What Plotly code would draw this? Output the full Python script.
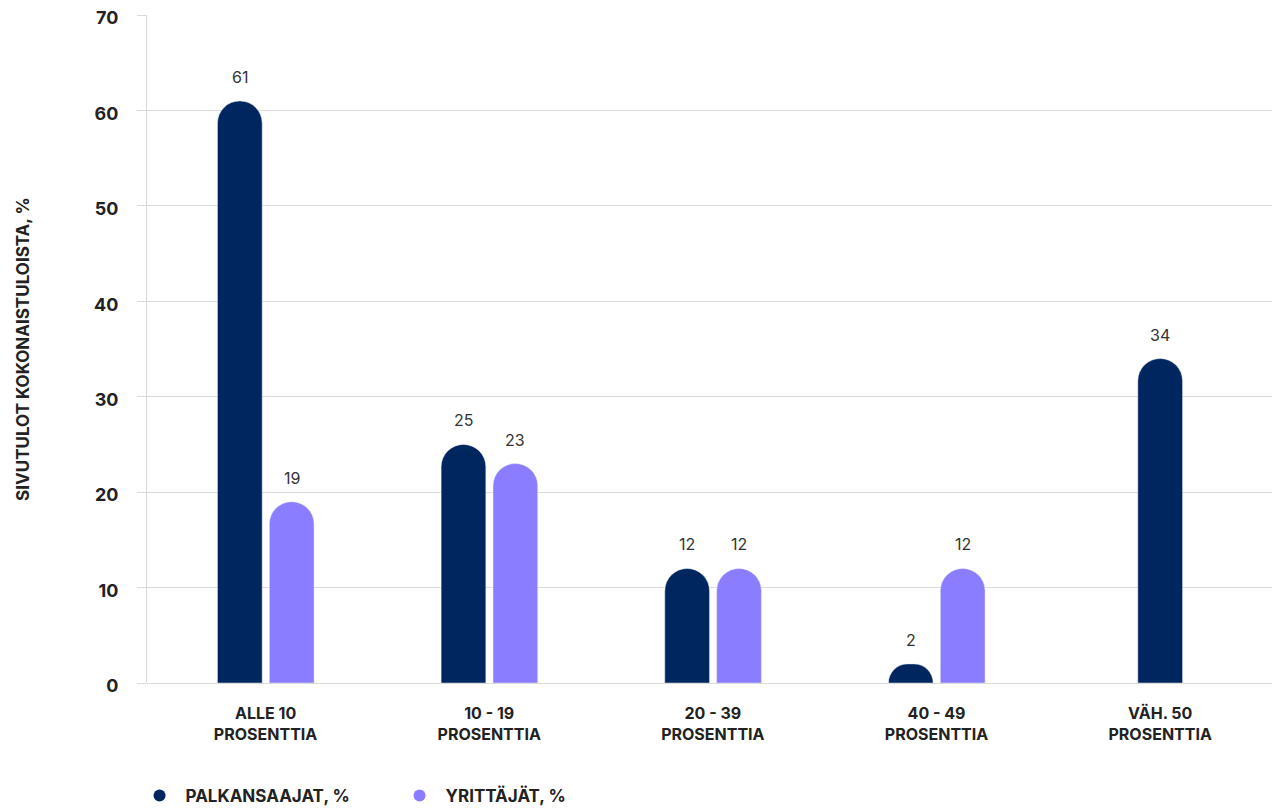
import plotly.graph_objects as go

# Data
categories = ["ALLE 10<br>PROSENTTIA", "10 - 19<br>PROSENTTIA", "20 - 39<br>PROSENTTIA",
              "40 - 49<br>PROSENTTIA", "VÄH. 50<br>PROSENTTIA"]
palkansaajat = [61, 25, 12, 2, 34]
yrittajat = [19, 23, 12, 12, None]
series_names = ["PALKANSAAJAT, %", "YRITTÄJÄT, %"]
y_ticks = [0, 10, 20, 30, 40, 50, 60, 70]

NAVY = "#00265F"
PURPLE = "#8A7DFF"
GRID = "#DADADA"
TEXT = "#222222"
FONT = "Inter"

# Bar geometry (category units)
bar_w = 0.2
navy_off = [-0.215, -0.215, -0.215, -0.215, -0.1]  # last group has only one bar -> centred
purple_off = 0.017
px_per_unit = 223.7

fig = go.Figure()

fig.add_trace(go.Bar(
    x=categories, y=palkansaajat, name=series_names[0],
    marker=dict(color=NAVY, cornerradius="50%"),
    width=bar_w, offset=navy_off, showlegend=False,
))
fig.add_trace(go.Bar(
    x=categories, y=yrittajat, name=series_names[1],
    marker=dict(color=PURPLE, cornerradius="50%"),
    width=bar_w, offset=purple_off, showlegend=False,
))

# legend entries with round markers
for name, col in zip(series_names, [NAVY, PURPLE]):
    fig.add_trace(go.Scatter(
        x=[None], y=[None], mode="markers", name=name,
        marker=dict(color=col, size=12, symbol="circle"),
    ))

# value labels above bars
for cat, v, off in zip(categories, palkansaajat, navy_off):
    if v is not None:
        fig.add_annotation(x=cat, y=v, text=str(v), showarrow=False,
                           xshift=(off + bar_w / 2) * px_per_unit, yshift=24,
                           font=dict(family=FONT, size=16, color="#333333"))
for cat, v in zip(categories, yrittajat):
    if v is not None:
        fig.add_annotation(x=cat, y=v, text=str(v), showarrow=False,
                           xshift=(purple_off + bar_w / 2) * px_per_unit, yshift=24,
                           font=dict(family=FONT, size=16, color="#333333"))

# y axis title
fig.add_annotation(xref="paper", yref="paper", x=-0.121, y=0.5,
                   text="<b>SIVUTULOT KOKONAISTULOISTA, %</b>", textangle=-90, showarrow=False,
                   font=dict(family=FONT, size=17, color=TEXT))

# page body has an 8px margin, so the figure is sized/offset to fill the window
fig.update_layout(
    width=1272, height=801,
    barmode="overlay",
    plot_bgcolor="white", paper_bgcolor="white",
    margin=dict(l=139, r=8, t=7, b=126, autoexpand=False),
    font=dict(family=FONT, color=TEXT),
    legend=dict(
        orientation="h", xref="container", yref="container",
        x=0.0987, y=0.0162, xanchor="left", yanchor="middle",
        entrywidth=203, entrywidthmode="pixels", itemwidth=42,
        font=dict(family=FONT, size=17, color=TEXT, weight=700),
    ),
)

fig.update_xaxes(
    range=[-0.53, 4.5], showgrid=False, showline=False, zeroline=False,
    tickfont=dict(family=FONT, size=16, color=TEXT, weight=700),
    ticks="", ticklabelstandoff=19, automargin=False,
)
fig.update_yaxes(
    range=[0, 70], tickvals=y_ticks, showgrid=True, gridcolor=GRID, gridwidth=1,
    zeroline=True, zerolinecolor=GRID, zerolinewidth=1,
    showline=True, linecolor=GRID, linewidth=1,
    ticks="outside", ticklen=9, tickcolor=GRID,
    tickfont=dict(family=FONT, size=18, color=TEXT, weight=700),
    ticklabelstandoff=15, ticklabelshift=3, ticklabeloverflow="allow", automargin=False,
)

fig.write_html("out.html")
